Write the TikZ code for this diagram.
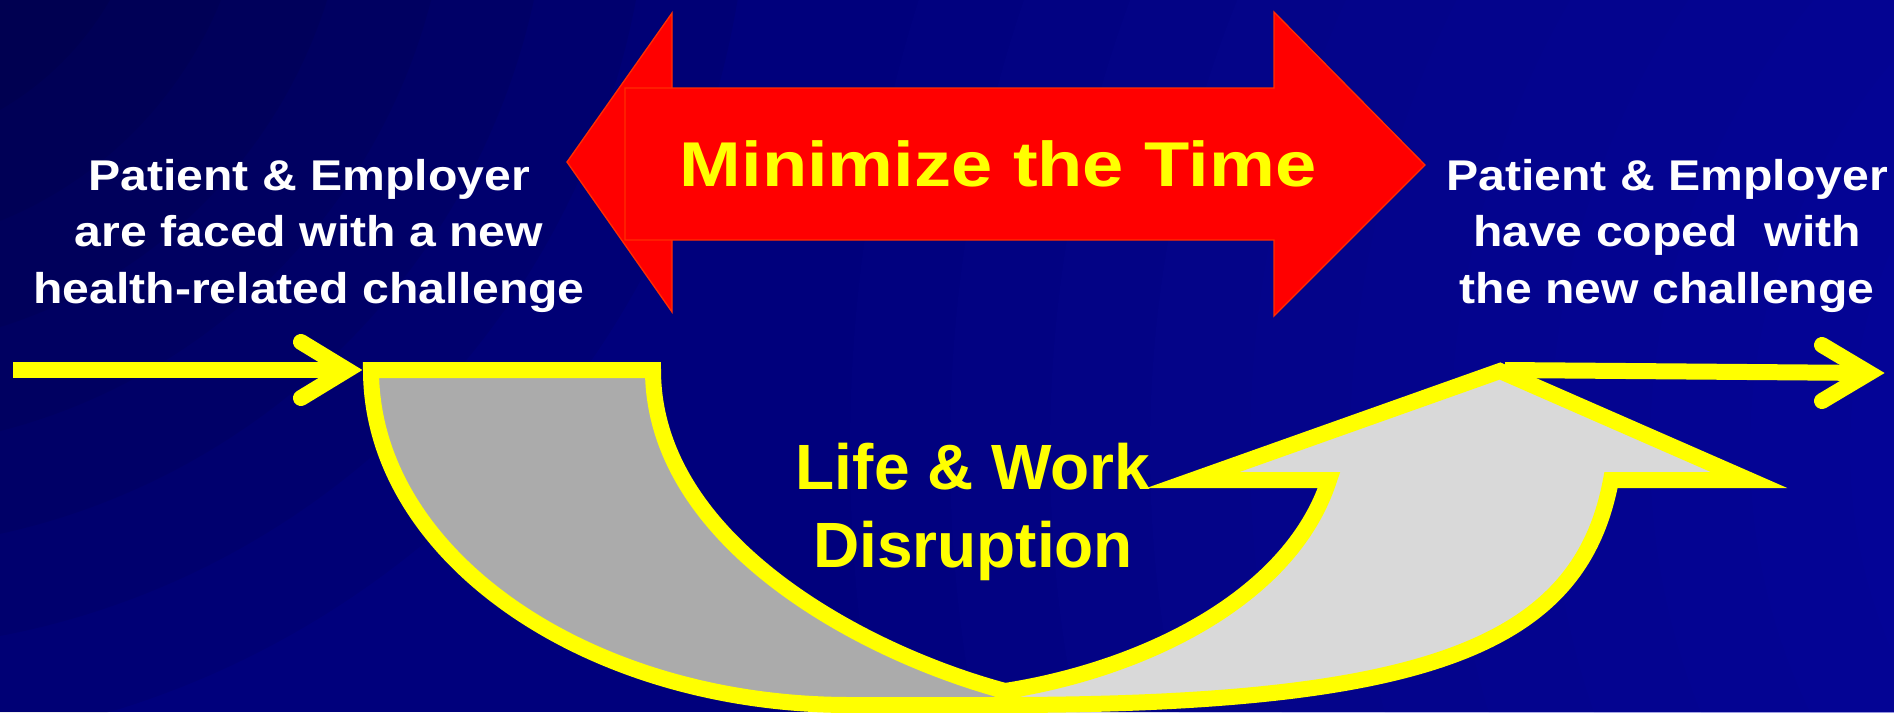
\documentclass[tikz,border=0pt]{standalone}
\usepackage{fontspec}
\usepackage{graphicx}
\setmainfont{Liberation Sans}
\usetikzlibrary{calc}
\definecolor{ylw}{RGB}{255,255,0}
\definecolor{darkband}{RGB}{171,171,171}
\definecolor{lightband}{RGB}{217,217,217}
\definecolor{redfill}{RGB}{255,0,0}
\definecolor{redline}{RGB}{255,45,0}
\definecolor{bgbase}{RGB}{0,0,124}
\definecolor{bgbright}{RGB}{20,20,185}
\newcommand\wscale[1]{\scalebox{1.12}[1]{#1}}
\begin{document}
\begin{tikzpicture}[x=1pt,y=-1pt,
  redshape/.style={fill=redfill, draw=redline, line width=1.3pt, line join=miter},
  band/.style={draw=ylw, line width=16pt, line join=miter, miter limit=10},
  yshaft/.style={draw=ylw, line width=16pt},
  yhead/.style={draw=ylw, line width=16pt, line cap=round, line join=miter},
  wtext/.style={text=white, font=\fontsize{43}{56.5}\selectfont\bfseries, align=center, inner sep=0pt, anchor=base},
  ytext/.style={text=ylw, font=\fontsize{64}{78}\selectfont\bfseries, align=center, inner sep=0pt, anchor=base},
  mtext/.style={text=ylw, font=\fontsize{63.3}{76}\selectfont\bfseries, inner sep=0pt, anchor=base},
  rayL/.style={fill=white, opacity=0.04},
  rayD/.style={fill=black, opacity=0.09}]
\useasboundingbox (0,0) rectangle (1894,712);
% background
\begin{scope}
  \clip (0,0) rectangle (1894,712);
  \fill[bgbase] (0,0) rectangle (1894,712);
  \foreach \r in {1500,1400,...,300} {\fill[bgbright, opacity=0.06] (2350,450) circle[radius=\r pt];}
  \foreach \r in {900,800,...,100} {\fill[black, opacity=0.055] (-150,-150) circle[radius=\r pt];}
  \coordinate (rc) at (2150,1000);
  \fill[rayD] (rc) -- +(196:3200pt) -- +(199:3200pt) -- cycle;
  \fill[rayL] (rc) -- +(203:3200pt) -- +(205:3200pt) -- cycle;
  \fill[rayD] (rc) -- +(209:3200pt) -- +(213:3200pt) -- cycle;
  \fill[rayL] (rc) -- +(217:3200pt) -- +(219:3200pt) -- cycle;
  \fill[rayD] (rc) -- +(224:3200pt) -- +(227:3200pt) -- cycle;
  \fill[rayL] (rc) -- +(231:3200pt) -- +(233.5:3200pt) -- cycle;
  \fill[rayD] (rc) -- +(239:3200pt) -- +(242:3200pt) -- cycle;
  \fill[rayL] (rc) -- +(248:3200pt) -- +(250:3200pt) -- cycle;
  \fill[rayD] (rc) -- +(256:3200pt) -- +(259:3200pt) -- cycle;
  \fill[rayL] (rc) -- +(236:3200pt) -- +(237:3200pt) -- cycle;
\end{scope}
% red double arrow
\path[redshape] (567,162) -- (672,13) -- (672,312) -- cycle;
\path[redshape] (625,88) -- (1274,88) -- (1274,12) -- (1425,165) -- (1274,316) -- (1274,240) -- (625,240) -- cycle;
\node[mtext] (mint) at (998,186) {\scalebox{1.17}[1]{Minimize the Time}};
% texts (base anchor = baseline of the last line)
\node[wtext] (lefttxt) at (309,303) {\wscale{Patient \& Employer}\\ \wscale{are faced with a new}\\ \wscale{health-related challenge}};
\node[wtext] (righttxt) at (1667,303) {\wscale{Patient \& Employer}\\ \wscale{have coped\ \ with}\\ \wscale{the new challenge}};
% key points of the U-shaped bands
\coordinate (tl) at (371,370);
\coordinate (tr) at (653,370);
\coordinate (junc) at (1005,691);
\coordinate (apex) at (1500,371);
% left (dark) band
\path[band, fill=darkband] (tl) -- (tr) .. controls (653,540) and (860,652) .. (junc) -- (1012,705) -- (850,705) .. controls (586,705) and (371,555) .. (tl) -- cycle;
% right (light) band with arrow head
\path[band, fill=lightband] (junc) .. controls (1140,670) and (1290,600) .. (1329,480) -- (1193,480) -- (apex) -- (1749,480) -- (1611,480) .. controls (1580,645) and (1430,705) .. (1000,705) -- cycle;
% yellow arrows
\coordinate (lstart) at (13,370);
\coordinate (ltip) at (347,370);
\draw[yshaft] (lstart) -- (ltip);
\draw[yhead] (301,342) -- (ltip) -- (301,398);
\coordinate (rstart) at (1505,370);
\coordinate (rtip) at (1869,373);
\draw[yshaft] (rstart) -- (rtip);
\draw[yhead] (1822,345) -- (rtip) -- (1822,401);
% middle label
\node[ytext] (disrupt) at (973,567) {Life \& Work\\Disruption};
\end{tikzpicture}
\end{document}
